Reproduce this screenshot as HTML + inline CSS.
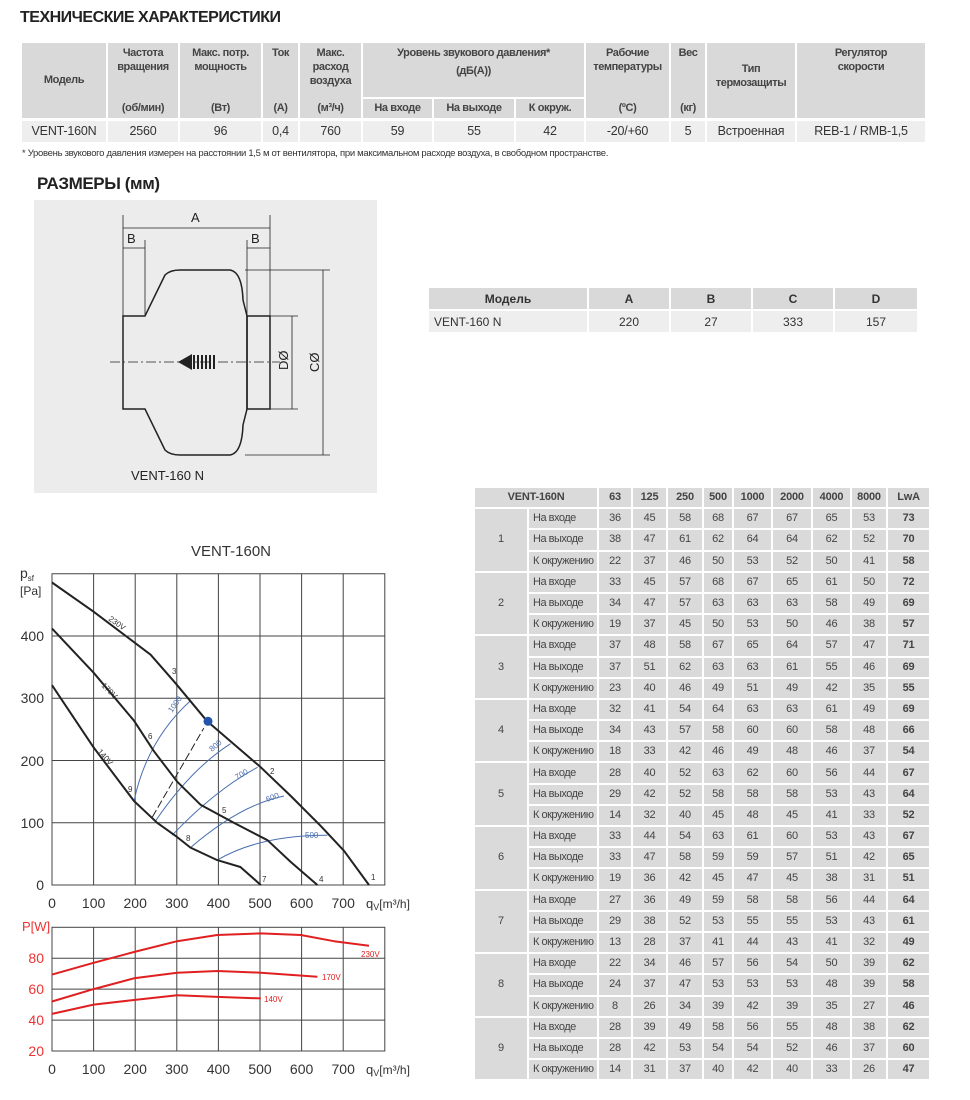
<!DOCTYPE html>
<html><head><meta charset="utf-8"><style>
body{margin:0;width:970px;height:1100px;background:#fff;position:relative;font-family:"Liberation Sans",sans-serif;color:#333;overflow:hidden}
.abs{position:absolute}
.h{position:absolute;background:#d9d9d9;font-weight:bold;color:#444;font-size:11px;letter-spacing:-0.4px;text-align:center;line-height:14px;box-sizing:border-box}
.h .u{position:absolute;left:0;right:0;bottom:3px}
.d{position:absolute;background:#eeeeee;color:#333;font-size:12.5px;text-align:center;line-height:21px;top:121px;height:21px;letter-spacing:-0.2px}
table{border-collapse:collapse;position:absolute;table-layout:fixed}
td{text-align:center;padding:0;border:2px solid #fff;white-space:nowrap;overflow:hidden}
#t3 td{background:#dadada;font-size:11px;height:19.2px;line-height:19px;color:#444;letter-spacing:-0.2px}
#t3 td.l{text-align:left;padding-left:4px;letter-spacing:-0.5px}
#t3 td.b{font-weight:bold}
#t2 td{font-size:12px;height:21px}
</style></head><body>
<div class="abs" style="left:20px;top:9px;font-size:16px;font-weight:bold;color:#222;letter-spacing:-0.5px">ТЕХНИЧЕСКИЕ ХАРАКТЕРИСТИКИ</div>

<div class="h" style="left:22px;top:43px;width:84px;height:75px;line-height:75px">Модель</div>
<div class="h" style="left:108px;top:43px;width:70px;height:75px;padding-top:3px">Частота<br>вращения<div class="u">(об/мин)</div></div>
<div class="h" style="left:180px;top:43px;width:81px;height:75px;padding-top:3px">Макс. потр.<br>мощность<div class="u">(Вт)</div></div>
<div class="h" style="left:263px;top:43px;width:35px;height:75px;padding-top:3px">Ток<div class="u">(А)</div></div>
<div class="h" style="left:300px;top:43px;width:61px;height:75px;padding-top:3px">Макс.<br>расход<br>воздуха<div class="u">(м³/ч)</div></div>
<div class="h" style="left:363px;top:43px;width:221px;height:54px;padding-top:3px">Уровень звукового давления*<br><span style="line-height:22px">(дБ(А))</span></div>
<div class="h" style="left:363px;top:99px;width:69px;height:19px;line-height:19px">На входе</div>
<div class="h" style="left:434px;top:99px;width:80px;height:19px;line-height:19px">На выходе</div>
<div class="h" style="left:516px;top:99px;width:68px;height:19px;line-height:19px">К окруж.</div>
<div class="h" style="left:586px;top:43px;width:83px;height:75px;padding-top:3px">Рабочие<br>температуры<div class="u">(ºC)</div></div>
<div class="h" style="left:671px;top:43px;width:34px;height:75px;padding-top:3px">Вес<div class="u">(кг)</div></div>
<div class="h" style="left:707px;top:43px;width:88px;height:75px;padding-top:19px">Тип<br>термозащиты</div>
<div class="h" style="left:797px;top:43px;width:128px;height:75px;padding-top:3px">Регулятор<br>скорости</div>

<div class="d" style="left:22px;width:84px">VENT-160N</div>
<div class="d" style="left:108px;width:70px">2560</div>
<div class="d" style="left:180px;width:81px">96</div>
<div class="d" style="left:263px;width:35px">0,4</div>
<div class="d" style="left:300px;width:61px">760</div>
<div class="d" style="left:363px;width:69px">59</div>
<div class="d" style="left:434px;width:80px">55</div>
<div class="d" style="left:516px;width:68px">42</div>
<div class="d" style="left:586px;width:83px">-20/+60</div>
<div class="d" style="left:671px;width:34px">5</div>
<div class="d" style="left:707px;width:88px">Встроенная</div>
<div class="d" style="left:797px;width:128px">REB-1 / RMB-1,5</div>

<div class="abs" style="left:22px;top:148px;font-size:9.5px;color:#333;letter-spacing:-0.3px">* Уровень звукового давления измерен на расстоянии 1,5 м от вентилятора, при максимальном расходе воздуха, в свободном пространстве.</div>
<div class="abs" style="left:37px;top:174px;font-size:17px;font-weight:bold;color:#222;letter-spacing:-0.4px">РАЗМЕРЫ (мм)</div>

<svg class="abs" style="left:0;top:0" width="970" height="1100" font-family="Liberation Sans, sans-serif">
<rect x="34" y="200" width="343" height="293" fill="#ececec"/>
<g stroke="#222" fill="none" stroke-width="1.5">
<path d="M123 316 L145 316 L165 275 Q170 270 180 270 L230 270 Q242 272 243 300 L247 316 L247 409 L243 425 Q242 453 230 455 L180 455 Q170 455 165 450 L145 409 L123 409 Z"/>
<rect x="247" y="316" width="23" height="93"/>
</g>
<g stroke="#222" stroke-width="0.8" fill="none">
<line x1="123" y1="215" x2="123" y2="316"/><line x1="270" y1="215" x2="270" y2="316"/>
<line x1="145" y1="240" x2="145" y2="316"/><line x1="247" y1="240" x2="247" y2="316"/>
<line x1="123" y1="228" x2="270" y2="228"/><line x1="123" y1="248" x2="145" y2="248"/><line x1="247" y1="248" x2="270" y2="248"/>
<line x1="245" y1="270" x2="330" y2="270"/><line x1="245" y1="455" x2="330" y2="455"/>
<line x1="323" y1="270" x2="323" y2="455"/><line x1="270" y1="316" x2="298" y2="316"/><line x1="270" y1="409" x2="298" y2="409"/><line x1="292" y1="316" x2="292" y2="409"/>
<line x1="110" y1="362" x2="280" y2="362" stroke-dasharray="10,3,2,3"/>
</g>
<path d="M178 362 L192 354 L192 370 Z" fill="#222"/>
<g stroke="#222" stroke-width="2"><line x1="194" y1="355" x2="194" y2="369"/><line x1="198" y1="355" x2="198" y2="369"/><line x1="202" y1="355" x2="202" y2="369"/><line x1="206" y1="355" x2="206" y2="369"/><line x1="210" y1="355" x2="210" y2="369"/><line x1="214" y1="355" x2="214" y2="369"/></g>
<g font-size="13" fill="#222"><text x="191" y="222">A</text><text x="127" y="243">B</text><text x="251" y="243">B</text>
<text x="0" y="0" transform="translate(288 370) rotate(-90)">DØ</text><text x="0" y="0" transform="translate(319 372) rotate(-90)">CØ</text>
<text x="131" y="480" font-size="13">VENT-160 N</text></g>

<text x="231" y="556" font-size="15" text-anchor="middle" fill="#333">VENT-160N</text>
<g stroke="#444" stroke-width="1" fill="none">
<rect x="52" y="573.75" width="332.8" height="311.25"/>
<path d="M93.6 573.75V885M135.2 573.75V885M176.8 573.75V885M218.4 573.75V885M260 573.75V885M301.6 573.75V885M343.2 573.75V885M52 822.75H384.8M52 760.5H384.8M52 698.25H384.8M52 636H384.8"/>
<rect x="52" y="927.3" width="332.8" height="123.7"/>
<path d="M93.6 927.3V1051M135.2 927.3V1051M176.8 927.3V1051M218.4 927.3V1051M260 927.3V1051M301.6 927.3V1051M343.2 927.3V1051M52 958.2H384.8M52 989.1H384.8M52 1020.1H384.8"/>
</g>
<g font-size="14" fill="#333" text-anchor="end"><text x="44" y="890">0</text><text x="44" y="828">100</text><text x="44" y="766">200</text><text x="44" y="703">300</text><text x="44" y="641">400</text></g>
<text x="20" y="578" font-size="14" fill="#333">p<tspan font-size="8" dy="3">sf</tspan></text><text x="20" y="595" font-size="12" fill="#333">[Pa]</text>
<g font-size="14" fill="#333" text-anchor="middle"><text x="52" y="908">0</text><text x="93.6" y="908">100</text><text x="135.2" y="908">200</text><text x="176.8" y="908">300</text><text x="218.4" y="908">400</text><text x="260" y="908">500</text><text x="301.6" y="908">600</text><text x="343.2" y="908">700</text></g>
<text x="366" y="908" font-size="13" fill="#333">q<tspan font-size="9" dy="2">V</tspan><tspan dy="-2" font-size="12">[m³/h]</tspan></text>
<g font-size="14" fill="#e33" text-anchor="end"><text x="44" y="1056">20</text><text x="44" y="1025">40</text><text x="44" y="994">60</text><text x="44" y="963">80</text></g>
<text x="22" y="931" font-size="13" fill="#e33">P[W]</text>
<g font-size="14" fill="#333" text-anchor="middle"><text x="52" y="1074">0</text><text x="93.6" y="1074">100</text><text x="135.2" y="1074">200</text><text x="176.8" y="1074">300</text><text x="218.4" y="1074">400</text><text x="260" y="1074">500</text><text x="301.6" y="1074">600</text><text x="343.2" y="1074">700</text></g>
<text x="366" y="1074" font-size="13" fill="#333">q<tspan font-size="9" dy="2">V</tspan><tspan dy="-2" font-size="12">[m³/h]</tspan></text>

<g stroke="#4a6fb0" stroke-width="1" fill="none">
<path d="M134 801 Q147 740 190.5 700.7"/><path d="M155.6 820.9 Q190 770 230.5 743.7"/><path d="M172.2 835.2 Q215 790 257.5 767.3"/><path d="M190.5 847.6 Q240 805 284 796"/><path d="M217.2 860.1 Q260 835 327.4 835.2"/>
</g>
<line x1="152.3" y1="817.1" x2="203.8" y2="728.1" stroke="#222" stroke-dasharray="8,3"/>
<g stroke="#222" stroke-width="2" fill="none" stroke-linejoin="round">
<polyline points="52,582.5 93.6,611.7 150.6,654.7 175.6,683.3 207.2,721.3 260.8,767.3 290.8,796 320.7,825.9 344,850.8 369,885"/>
<polyline points="52,628.5 93.6,672.7 134,720.7 153.9,751.2 177.2,781.7 200.5,804.7 233.8,822.8 267.5,840.2 290.8,862 317.4,885"/>
<polyline points="52,685.2 93.6,747.4 134,801 157.2,822.8 177.2,837.1 190.5,847.6 217.2,860.1 240.4,867 260.8,885"/>
</g>
<line x1="260" y1="870" x2="260" y2="885" stroke="#222"/>
<circle cx="208" cy="721.3" r="4.5" fill="#2255aa"/>
<g font-size="8" fill="#333"><text x="172" y="674">3</text><text x="270" y="774">2</text><text x="222" y="813">5</text><text x="148" y="739">6</text><text x="128" y="792">9</text><text x="186" y="841">8</text><text x="262" y="882">7</text><text x="319" y="882">4</text><text x="371" y="880">1</text>
<text transform="translate(108 620) rotate(35)">230V</text><text transform="translate(101 686) rotate(45)">170V</text><text transform="translate(97 752) rotate(48)">140V</text></g>
<g font-size="8" fill="#4a6fb0"><text transform="translate(172 713) rotate(-55)">1000</text><text transform="translate(212 752) rotate(-40)">800</text><text transform="translate(237 780) rotate(-30)">700</text><text transform="translate(267 802) rotate(-20)">600</text><text x="305" y="838">500</text></g>
<g stroke="#e02020" stroke-width="2" fill="none" stroke-linejoin="round">
<polyline points="52,974.6 93.6,962.8 134,952 177.2,941.2 217.2,935 260.8,933.4 300.8,935 334,941.2 369,945.8"/>
<polyline points="52,1001.5 93.6,989.1 134,978.3 177.2,972.7 217.2,971 260.8,972.7 317.4,976.7"/>
<polyline points="52,1013.9 93.6,1004.6 134,1000 177.2,995.3 217.2,996.9 260.8,998.4"/>
</g>
<g font-size="8" fill="#e02020"><text x="361" y="957">230V</text><text x="322" y="980">170V</text><text x="264" y="1002">140V</text></g>
</svg>

<table id="t2" style="left:427px;top:286px;width:490px">
<colgroup><col style="width:160px"><col style="width:82px"><col style="width:82px"><col style="width:82px"><col style="width:84px"></colgroup>
<tr><td style="background:#d9d9d9;font-weight:bold">Модель</td><td style="background:#d9d9d9;font-weight:bold">A</td><td style="background:#d9d9d9;font-weight:bold">B</td><td style="background:#d9d9d9;font-weight:bold">C</td><td style="background:#d9d9d9;font-weight:bold">D</td></tr>
<tr><td style="background:#eee;text-align:left;padding-left:5px">VENT-160 N</td><td style="background:#eee">220</td><td style="background:#eee">27</td><td style="background:#eee">333</td><td style="background:#eee">157</td></tr>
</table>

<table id="t3" style="left:473px;top:486px;width:458px">
<colgroup><col style="width:54px"><col style="width:70px"><col style="width:34px"><col style="width:35px"><col style="width:36px"><col style="width:30px"><col style="width:39px"><col style="width:40px"><col style="width:39px"><col style="width:36px"><col style="width:43px"></colgroup>
<tbody><tr><td colspan="2" class="b">VENT-160N</td><td class="b">63</td><td class="b">125</td><td class="b">250</td><td class="b">500</td><td class="b">1000</td><td class="b">2000</td><td class="b">4000</td><td class="b">8000</td><td class="b">LwA</td></tr>
<tr><td rowspan="3">1</td><td class="l">На входе</td><td>36</td><td>45</td><td>58</td><td>68</td><td>67</td><td>67</td><td>65</td><td>53</td><td class="b">73</td></tr>
<tr><td class="l">На выходе</td><td>38</td><td>47</td><td>61</td><td>62</td><td>64</td><td>64</td><td>62</td><td>52</td><td class="b">70</td></tr>
<tr><td class="l">К окружению</td><td>22</td><td>37</td><td>46</td><td>50</td><td>53</td><td>52</td><td>50</td><td>41</td><td class="b">58</td></tr>
<tr><td rowspan="3">2</td><td class="l">На входе</td><td>33</td><td>45</td><td>57</td><td>68</td><td>67</td><td>65</td><td>61</td><td>50</td><td class="b">72</td></tr>
<tr><td class="l">На выходе</td><td>34</td><td>47</td><td>57</td><td>63</td><td>63</td><td>63</td><td>58</td><td>49</td><td class="b">69</td></tr>
<tr><td class="l">К окружению</td><td>19</td><td>37</td><td>45</td><td>50</td><td>53</td><td>50</td><td>46</td><td>38</td><td class="b">57</td></tr>
<tr><td rowspan="3">3</td><td class="l">На входе</td><td>37</td><td>48</td><td>58</td><td>67</td><td>65</td><td>64</td><td>57</td><td>47</td><td class="b">71</td></tr>
<tr><td class="l">На выходе</td><td>37</td><td>51</td><td>62</td><td>63</td><td>63</td><td>61</td><td>55</td><td>46</td><td class="b">69</td></tr>
<tr><td class="l">К окружению</td><td>23</td><td>40</td><td>46</td><td>49</td><td>51</td><td>49</td><td>42</td><td>35</td><td class="b">55</td></tr>
<tr><td rowspan="3">4</td><td class="l">На входе</td><td>32</td><td>41</td><td>54</td><td>64</td><td>63</td><td>63</td><td>61</td><td>49</td><td class="b">69</td></tr>
<tr><td class="l">На выходе</td><td>34</td><td>43</td><td>57</td><td>58</td><td>60</td><td>60</td><td>58</td><td>48</td><td class="b">66</td></tr>
<tr><td class="l">К окружению</td><td>18</td><td>33</td><td>42</td><td>46</td><td>49</td><td>48</td><td>46</td><td>37</td><td class="b">54</td></tr>
<tr><td rowspan="3">5</td><td class="l">На входе</td><td>28</td><td>40</td><td>52</td><td>63</td><td>62</td><td>60</td><td>56</td><td>44</td><td class="b">67</td></tr>
<tr><td class="l">На выходе</td><td>29</td><td>42</td><td>52</td><td>58</td><td>58</td><td>58</td><td>53</td><td>43</td><td class="b">64</td></tr>
<tr><td class="l">К окружению</td><td>14</td><td>32</td><td>40</td><td>45</td><td>48</td><td>45</td><td>41</td><td>33</td><td class="b">52</td></tr>
<tr><td rowspan="3">6</td><td class="l">На входе</td><td>33</td><td>44</td><td>54</td><td>63</td><td>61</td><td>60</td><td>53</td><td>43</td><td class="b">67</td></tr>
<tr><td class="l">На выходе</td><td>33</td><td>47</td><td>58</td><td>59</td><td>59</td><td>57</td><td>51</td><td>42</td><td class="b">65</td></tr>
<tr><td class="l">К окружению</td><td>19</td><td>36</td><td>42</td><td>45</td><td>47</td><td>45</td><td>38</td><td>31</td><td class="b">51</td></tr>
<tr><td rowspan="3">7</td><td class="l">На входе</td><td>27</td><td>36</td><td>49</td><td>59</td><td>58</td><td>58</td><td>56</td><td>44</td><td class="b">64</td></tr>
<tr><td class="l">На выходе</td><td>29</td><td>38</td><td>52</td><td>53</td><td>55</td><td>55</td><td>53</td><td>43</td><td class="b">61</td></tr>
<tr><td class="l">К окружению</td><td>13</td><td>28</td><td>37</td><td>41</td><td>44</td><td>43</td><td>41</td><td>32</td><td class="b">49</td></tr>
<tr><td rowspan="3">8</td><td class="l">На входе</td><td>22</td><td>34</td><td>46</td><td>57</td><td>56</td><td>54</td><td>50</td><td>39</td><td class="b">62</td></tr>
<tr><td class="l">На выходе</td><td>24</td><td>37</td><td>47</td><td>53</td><td>53</td><td>53</td><td>48</td><td>39</td><td class="b">58</td></tr>
<tr><td class="l">К окружению</td><td>8</td><td>26</td><td>34</td><td>39</td><td>42</td><td>39</td><td>35</td><td>27</td><td class="b">46</td></tr>
<tr><td rowspan="3">9</td><td class="l">На входе</td><td>28</td><td>39</td><td>49</td><td>58</td><td>56</td><td>55</td><td>48</td><td>38</td><td class="b">62</td></tr>
<tr><td class="l">На выходе</td><td>28</td><td>42</td><td>53</td><td>54</td><td>54</td><td>52</td><td>46</td><td>37</td><td class="b">60</td></tr>
<tr><td class="l">К окружению</td><td>14</td><td>31</td><td>37</td><td>40</td><td>42</td><td>40</td><td>33</td><td>26</td><td class="b">47</td></tr>
</tbody></table>
</body></html>
